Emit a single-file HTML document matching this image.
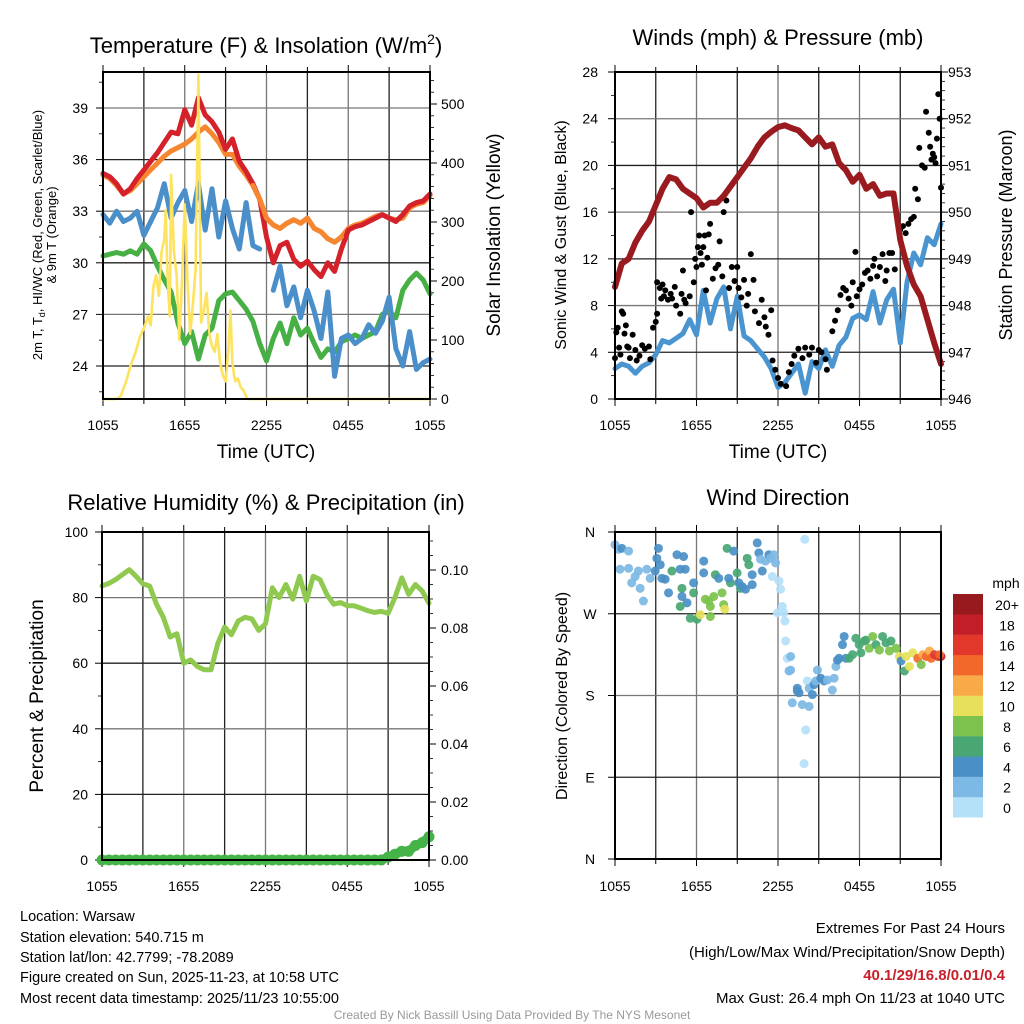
<!DOCTYPE html>
<html><head><meta charset="utf-8"><style>
html,body{margin:0;padding:0;background:#fff;}
svg{display:block;font-family:"Liberation Sans",Arial,sans-serif;}
</style></head><body>
<svg id="s" width="1024" height="1024" viewBox="0 0 1024 1024" xmlns="http://www.w3.org/2000/svg">
<rect width="1024" height="1024" fill="#fff"/>
<text x="266" y="53" font-size="22" text-anchor="middle">Temperature (F) &amp; Insolation (W/m<tspan dy="-9" font-size="14">2</tspan><tspan dy="9">)</tspan></text>
<text x="778" y="45" font-size="22" text-anchor="middle">Winds (mph) &amp; Pressure (mb)</text>
<text x="266" y="510" font-size="22" text-anchor="middle">Relative Humidity (%) &amp; Precipitation (in)</text>
<text x="778" y="505" font-size="22" text-anchor="middle">Wind Direction</text>
<text x="266" y="458" font-size="19" text-anchor="middle">Time (UTC)</text>
<text x="778" y="458" font-size="19" text-anchor="middle">Time (UTC)</text>
<text transform="translate(42,235) rotate(-90)" font-size="13" text-anchor="middle">2m T, T<tspan font-size="9" dy="3">d</tspan><tspan dy="-3">, HI/WC (Red, Green, Scarlet/Blue)</tspan></text>
<text transform="translate(56,235) rotate(-90)" font-size="13" text-anchor="middle">&amp; 9m T (Orange)</text>
<text transform="translate(500,235) rotate(-90)" font-size="19" text-anchor="middle">Solar Insolation (Yellow)</text>
<text transform="translate(566,235) rotate(-90)" font-size="16" text-anchor="middle">Sonic Wind &amp; Gust (Blue, Black)</text>
<text transform="translate(1012,235) rotate(-90)" font-size="18" text-anchor="middle">Station Pressure (Maroon)</text>
<text transform="translate(43,696) rotate(-90)" font-size="19" text-anchor="middle">Percent &amp; Precipitation</text>
<text transform="translate(567,696) rotate(-90)" font-size="16" text-anchor="middle">Direction (Colored By Speed)</text>
<g font-size="14.5">
<text x="20" y="921">Location: Warsaw</text>
<text x="20" y="942">Station elevation: 540.715 m</text>
<text x="20" y="962">Station lat/lon: 42.7799; -78.2089</text>
<text x="20" y="982">Figure created on Sun, 2025-11-23, at 10:58 UTC</text>
<text x="20" y="1003">Most recent data timestamp: 2025/11/23 10:55:00</text>
</g>
<g font-size="15" text-anchor="end">
<text x="1005" y="933">Extremes For Past 24 Hours</text>
<text x="1005" y="957">(High/Low/Max Wind/Precipitation/Snow Depth)</text>
<text x="1005" y="980" fill="#c8202a" font-weight="bold">40.1/29/16.8/0.01/0.4</text>
<text x="1005" y="1003">Max Gust: 26.4 mph On 11/23 at 1040 UTC</text>
</g>
<text x="512" y="1019" font-size="12" fill="#999" text-anchor="middle">Created By Nick Bassill Using Data Provided By The NYS Mesonet</text>
</svg>
<script>
const hours=[0,0.5,1,1.5,2,2.5,3,3.5,4,4.5,5,5.5,6,6.5,7,7.5,8,8.5,9,9.5,10,10.5,11,11.5,12,12.5,13,13.5,14,14.5,15,15.5,16,16.5,17,17.5,18,18.5,19,19.5,20,20.5,21,21.5,22,22.5,23,23.5,24];
const timeLabels=["1055","1655","2255","0455","1055"];
const tempRed=[35.2,35.0,34.6,34.0,34.3,34.9,35.4,35.9,36.4,37.0,37.6,37.5,38.9,38.0,39.6,38.6,38.2,37.6,36.6,37.2,35.9,35.3,34.6,33.7,31.5,30.0,31.0,31.2,30.2,29.8,30.1,29.6,29.2,30.0,29.5,30.8,31.9,32.1,32.2,32.4,32.6,32.8,32.6,32.4,32.8,33.3,33.5,33.6,34.0];
const temp9m=[35.1,34.9,34.5,34.0,34.2,34.6,35.0,35.4,35.8,36.2,36.5,36.7,36.9,37.2,37.6,37.9,37.5,37.0,36.3,36.3,35.6,35.1,34.5,33.7,32.6,32.2,32.0,32.3,32.5,32.3,32.6,32.0,31.8,31.4,31.2,31.5,32.0,32.2,32.3,32.5,32.7,32.8,32.6,32.5,32.6,33.2,33.4,33.5,33.9];
const heatWC=[32.8,32.3,33.0,32.4,32.6,33.0,31.6,32.4,33.2,34.6,32.6,33.5,34.2,32.4,34.6,31.9,34.3,31.5,33.6,32.0,30.8,33.5,31.0,30.8,null,28.4,29.8,27.5,28.6,26.8,28.4,27.2,25.6,28.3,23.4,25.6,25.8,25.3,25.6,26.4,25.9,26.6,28.0,25.0,24.0,26.0,23.8,24.2,24.4];
const dewpt=[30.4,30.5,30.6,30.5,30.7,30.5,31.1,30.7,29.8,29.0,28.3,26.5,25.3,26.0,24.4,25.8,26.2,27.8,28.2,28.3,27.8,27.3,26.6,25.3,24.3,25.6,26.5,25.3,26.8,25.8,26.2,25.3,24.5,25.0,24.8,25.4,25.6,25.8,25.6,25.8,26.0,27.0,27.2,26.8,28.4,29.0,29.4,29.0,28.2];
const solTimes=[0,1,1.3,1.7,2.0,2.4,2.7,3.0,3.3,3.5,3.7,3.9,4.1,4.3,4.5,4.6,4.75,4.9,5.0,5.2,5.4,5.6,5.8,6.0,6.2,6.4,6.6,6.8,7.0,7.2,7.4,7.6,7.8,8.0,8.2,8.4,8.6,8.8,9.0,9.2,9.35,9.5,9.7,9.9,10.1,10.3,10.6,24];
const solar=[0,0,5,30,55,80,105,120,140,125,190,210,175,250,270,320,200,140,380,250,210,100,200,330,200,110,160,220,550,130,150,180,110,90,80,110,60,40,30,80,150,60,30,35,20,15,0,0];
const tempTicks=[24,27,30,33,36,39];
const solarTicks=[0,100,200,300,400,500];
const wind=[2.6,3.0,2.8,2.2,2.8,3.1,3.8,5.0,4.8,5.2,5.6,6.8,5.5,9.3,6.5,8.6,9.6,6.0,8.8,5.4,5.0,4.3,3.6,2.6,1.0,1.4,2.2,3.0,0.5,3.2,2.6,4.2,2.8,4.6,5.3,6.9,7.2,6.8,9.2,6.5,8.5,9.4,4.8,10.0,12.5,11.5,13.8,13.2,15.0];
const pressure=[948.4,948.9,949.0,949.35,949.6,949.8,950.15,950.5,950.75,950.7,950.5,950.4,950.3,950.1,950.2,950.2,950.35,950.55,950.75,950.95,951.15,951.4,951.6,951.72,951.82,951.86,951.8,951.75,951.6,951.45,951.6,951.4,951.45,951.05,950.9,950.65,950.8,950.5,950.6,950.35,950.4,950.4,949.4,948.85,948.45,948.2,947.7,947.2,946.75];
const gustTimes=[0,0.1,0.2,0.3,0.4,0.5,0.6,0.7,0.8,0.9,1,1.1,1.3,1.5,1.6,1.8,2,2.2,2.5,2.6,2.8,3,3.1,3.1,3.3,3.4,3.5,3.6,3.7,3.9,4.1,4.2,4.4,4.5,4.8,4.9,5,5.1,5.2,5.5,5.6,5.8,5.9,6,6.1,6.2,6.3,6.4,6.5,6.6,6.7,6.8,6.9,7.0,7.2,7.4,7.6,7.7,7.9,8,8.2,8.4,8.6,8.8,9.0,9.1,9.3,9.5,9.7,9.8,10.0,10.2,10.3,10.6,10.8,11.0,11.1,11.3,11.5,11.6,11.8,12,12.2,12.6,12.8,13,13.2,13.5,13.8,14.0,14.3,14.5,14.8,15,15.2,15.5,15.6,16,16.2,16.4,16.6,16.8,17.0,17.2,17.4,17.5,17.7,17.8,18,18.2,18.4,18.6,18.8,19.0,19.1,19.3,19.5,19.7,19.9,20.0,20.2,20.4,20.6,21,21.2,21.4,21.6,21.8,22.0,22.1,22.3,22.4,22.6,22.8,22.9,23.1,23.2,23.3,23.4,23.5,23.6,23.7,23.8,23.9,24.0];
const gusts=[3.5,5.7,6.1,4.4,3.8,7.5,7.3,5.6,6.3,4.5,4.4,3.5,5.5,4.2,3.3,3.7,4.6,4.3,4.5,3.4,6.1,6.6,7.3,10,9.5,8.6,9.8,8.8,9.3,8.5,9.0,8.6,9.6,8.0,7.3,9.0,11,8.5,8.2,8.8,16,10,12,11.3,13,14,12.5,11.5,13,14,9.3,12.1,14.1,15,10.3,11.2,11.5,13.5,10.5,16,17,9.5,11.3,10.1,11.3,9.5,8.7,10.2,8.0,9.0,12.4,10.2,7.5,6.5,8.5,7.0,6.2,5.5,7.6,3.3,2.5,1.8,1.3,1.1,2.3,3.0,3.7,4.3,3.5,4.4,3.8,4.4,3.1,4.2,4.0,3.4,2.5,5.8,6.7,7.6,8.9,9.5,9.3,8.6,8.0,10.0,12.6,8.8,9.4,9.8,10.8,11.0,10.3,11.4,12.0,10.5,11.3,12.4,10.1,11.0,12.5,12.5,11.1,14.5,14.8,14.2,15.0,15.4,15.6,18.0,17.1,21.5,20.0,19.8,24.6,22.8,21.6,20.5,21.0,20.7,20.2,22.3,26.1,24.0,18.1];
const windTicks=[0,4,8,12,16,20,24,28];
const presTicks=[946,947,948,949,950,951,952,953];
const rh=[83.6,84.3,85.5,87.0,88.5,86.5,84.2,83.5,78,74,68,69,60,61,59,58,58,66,71,68.7,72.9,74,73.5,70,72,83,80,84,79.5,86.5,79,86.5,85.5,81,78,78.5,77.5,77.5,76.8,76,75.5,75.8,75.2,80,86,81,84,82,78.3];
const precip=[0,0,0,0,0,0,0,0,0,0,0,0,0,0,0,0,0,0,0,0,0,0,0,0,0,0,0,0,0,0,0,0,0,0,0,0,0,0,0,0,0,0,0.001,0.002,0.003,0.003,0.005,0.006,0.008];
const rhTicks=[0,20,40,60,80,100];
const precipTicks=["0.00","0.02","0.04","0.06","0.08","0.10"];
const wdTimes=[0,0.25,0.5,1.0,0.37,1.0,1.23,1.48,1.72,1.85,2.09,2.34,2.59,2.96,3.2,3.08,3.33,3.45,3.69,3.94,4.19,4.56,5.05,4.8,5.17,4.93,4.93,5.3,4.8,5.54,5.79,5.79,6.03,6.28,6.53,6.53,6.65,6.9,7.02,7.02,7.27,7.39,7.64,7.88,8.0,8.08,8.25,8.5,8.74,8.37,8.99,9.11,9.24,9.36,9.61,9.73,9.85,10.1,10.1,10.47,10.59,10.71,10.84,11.08,11.33,11.45,11.7,11.82,11.58,12.07,12.19,12.32,12.44,11.95,12.51,12.56,12.68,12.93,12.93,12.81,13.05,13.42,13.42,13.55,13.79,14.29,14.16,14.29,14.53,14.66,14.78,14.9,15.15,15.39,15.64,16.0,16.13,16.26,16.38,16.5,16.75,16.87,17.0,17.24,17.49,17.73,17.98,18.1,18.35,18.47,18.72,18.97,19.21,19.46,19.7,19.95,20.2,20.32,20.69,20.94,21.06,21.31,21.43,21.67,21.92,22.29,22.54,22.66,22.91,23.15,23.28,23.52,23.77,24.0,23.9,13.97,14.04,13.92];
const wdDirs=[346,341,342,339,319,320,304,311,317,298,284,319,309,317,342,331,324,309,308,293,317,335,333,319,319,298,289,282,278,265,304,293,264,269,328,315,286,284,278,267,289,313,309,293,280,275,342,304,339,309,315,304,298,300,297,331,324,302,313,348,337,330,317,328,335,331,335,326,311,306,297,278,271,271,262,240,221,223,208,207,172,188,185,183,170,168,196,188,181,192,196,208,199,196,197,186,199,212,219,221,236,245,221,221,225,243,236,227,240,241,232,245,236,230,245,238,229,240,232,223,218,207,223,212,227,221,214,225,223,229,221,225,223,223,225,352,142,105];
const wdSpeeds=[3,3,5,3,3,3,3,3,3,3,3,3,3,5,5,5,5,5,5,5,7,5,5,5,5,7,5,5,7,7,5,7,7,11,5,5,9,9,9,9,9,7,5,9,9,11,7,7,5,5,7,5,7,5,5,7,7,5,5,5,5,3,5,3,5,3,3,3,1,1,1,1,1,1,1,1,1,3,3,3,3,5,5,5,3,3,1,3,5,5,3,3,5,5,3,3,3,3,5,5,5,5,5,7,7,7,7,7,7,7,9,9,7,9,7,7,9,7,9,11,5,7,11,11,11,15,9,13,15,13,15,17,17,19,15,1,1,1];
const dirTicks=["N","E","S","W","N"];
const speedLabels=["0","2","4","6","8","10","12","14","16","18","20+"];
const speedColors=["#b4e0f8","#7cb9e4","#4a8fc6","#48a773","#7cc24c","#e6e05a","#f9aa48","#f2682b","#e1382b","#c11e27","#961a1e"];

const NS="http://www.w3.org/2000/svg";
const svg=document.getElementById('s');
function mk(tag,attrs,parent){const e=document.createElementNS(NS,tag);for(const k in attrs)e.setAttribute(k,attrs[k]);(parent||svg).appendChild(e);return e;}

// scales
const P1={x0:103,x1:430,y0:72,y1:399};
const P2={x0:615,x1:941,y0:72,y1:399};
const P3={x0:102,x1:429,y0:532,y1:860};
const P4={x0:615,x1:941,y0:532,y1:859};
function xs(P,h){return P.x0+h*(P.x1-P.x0)/24;}
const yT=v=>366-(v-24)*17.2;
const yI=v=>399-v*0.59;
const yW=v=>399-v*(327/28);
const yP=v=>399-(v-946)*(327/7);
const yR=v=>860-v*3.28;
const yPr=v=>860-v*2900;
const yD=v=>859-v*327/360;

function frame(P,name,hg){
  const g=mk('g',{});
  
  
  for(let i=1;i<8;i++){const x=xs(P,i*3);mk('line',{x1:x,x2:x,y1:P.y0,y2:P.y1,stroke:i%2?'#222':'#777','stroke-width':1.3},g);}
  hg.forEach((y,i)=>{mk('line',{x1:P.x0,x2:P.x1,y1:y,y2:y,stroke:i%2?'#777':'#222','stroke-width':1.3},g);});
  for(let i=0;i<=8;i++){const x=xs(P,i*3);mk('line',{x1:x,x2:x,y1:P.y1,y2:P.y1+(i%2?5:7),stroke:'#000','stroke-width':1},g);
    mk('line',{x1:x,x2:x,y1:P.y0,y2:P.y0-(i%2?5:7),stroke:'#000','stroke-width':1},g);}
  return g;
}
function border(P,name){const r=mk('rect',{x:P.x0,y:P.y0,width:P.x1-P.x0,height:P.y1-P.y0,fill:'none',stroke:'#000','stroke-width':2});
  
  }
function xlabels(P,y){timeLabels.forEach((t,i)=>{const e=mk('text',{x:xs(P,i*6),y:y,'font-size':14,'text-anchor':'middle'});e.textContent=t;
  
  });}
function ylabels(vals,fy,x,anchor,name,minorStep,side){
  vals.forEach(v=>{const y=fy(+v);const e=mk('text',{x:x,y:y+5,'font-size':14,'text-anchor':anchor});e.textContent=v;
    
    
    mk('line',{x1:side[0],x2:side[0]+side[1]*7,y1:y,y2:y,stroke:'#000','stroke-width':1});});
}
function minorTicks(fy,from,to,step,xb,dir){for(let v=from;v<=to+1e-9;v+=step){const y=fy(v);mk('line',{x1:xb,x2:xb+dir*4,y1:y,y2:y,stroke:'#000','stroke-width':0.8});}}
function line(P,times,vals,fy,color,w,name){
  let d='';let pen=false;
  for(let i=0;i<vals.length;i++){if(vals[i]===null){pen=false;continue;}
    const x=xs(P,times[i]),y=fy(vals[i]);d+=(pen?'L':'M')+x.toFixed(1)+' '+y.toFixed(1);pen=true;}
  const p=mk('path',{d:d,fill:'none',stroke:color,'stroke-width':w,'stroke-linejoin':'round','stroke-linecap':'round'});
  
  
  return p;
}

// Panel 1
frame(P1,'temp-grid',tempTicks.map(yT));
ylabels(tempTicks.map(String),yT,88,'end','temp-tick-label',0,[P1.x0,-1]);
minorTicks(yT,22.5,40.5,3,P1.x0,-1);
ylabels(solarTicks.map(String),yI,441,'start','solar-tick-label',0,[P1.x1,1]);
minorTicks(yI,20,540,20,P1.x1,1);
xlabels(P1,430);
line(P1,solTimes,solar,yI,'#fde35f',2.6,'insolation-line');
line(P1,hours,dewpt,yT,'#46b044',5,'dewpoint-line');
line(P1,hours,heatWC,yT,'#4a8fc9',5,'heat-index-windchill-line');
line(P1,hours,temp9m,yT,'#f6862f',5,'temp-9m-line');
line(P1,hours,tempRed,yT,'#d5212a',5,'temp-2m-line');
line(P1,hours,temp9m.map((v,i)=>i>=22&&i<36?v:null),yT,'#f6862f',5,'temp-9m-overlay');
line(P1,solTimes,solar,yI,'#fde35f',2.2,'insolation-overlay');
border(P1,'temp-plot-border');

// Panel 2
frame(P2,'wind-grid',windTicks.slice(1,7).map(yW));
ylabels(windTicks.map(String),yW,598,'end','wind-tick-label',0,[P2.x0,-1]);
minorTicks(yW,2,26,4,P2.x0,-1);
ylabels(presTicks.map(String),yP,948,'start','pressure-tick-label',0,[P2.x1,1]);
minorTicks(yP,946.2,952.8,0.2,P2.x1,1);
xlabels(P2,430);
line(P2,hours,wind,yW,'#4a94d0',5,'sonic-wind-line');
gusts.forEach((v,i)=>{const c=mk('circle',{cx:xs(P2,gustTimes[i]),cy:yW(v),r:3,fill:'#000'});
  
  });
line(P2,hours,pressure,yP,'#9a1b1f',6,'pressure-line');
border(P2,'wind-plot-border');

// Panel 3
frame(P3,'rh-grid',rhTicks.slice(1,5).map(yR));
ylabels(rhTicks.map(String),yR,88,'end','rh-tick-label',0,[P3.x0,-1]);
minorTicks(yR,10,90,20,P3.x0,-1);
ylabels(precipTicks,yPr,441,'start','precip-tick-label',0,[P3.x1,1]);
minorTicks(yPr,0.005,0.11,0.005,P3.x1,1);
xlabels(P3,891);
line(P3,hours,rh,yR,'#8fc94f',5,'rh-line');
line(P3,hours,precip,yPr,'#45b347',9,'precip-line');
precip.forEach((v,i)=>{const c=mk('circle',{cx:xs(P3,hours[i]),cy:yPr(v),r:5.5,fill:'#45b347'});
  
  });
border(P3,'rh-plot-border');

// Panel 4
frame(P4,'wdir-grid',[90,180,270].map(yD));
dirTicks.forEach((t,i)=>{const y=yD(i*90);const e=mk('text',{x:590,y:y+5,'font-size':14,'text-anchor':'middle'});e.textContent=t;
  
  
  mk('line',{x1:P4.x0,x2:P4.x0-7,y1:y,y2:y,stroke:'#000'});});
xlabels(P4,891);
wdDirs.forEach((d,i)=>{const ci=Math.min(10,Math.floor(wdSpeeds[i]/2));
  const c=mk('circle',{cx:xs(P4,wdTimes[i]),cy:yD(d),r:4.5,fill:speedColors[ci],'fill-opacity':0.92});
  
  });
border(P4,'wdir-plot-border');

// Colorbar
const cb=mk('g',{});


const mt=mk('text',{x:1006,y:588,'font-size':14,'text-anchor':'middle'},cb);mt.textContent='mph';
speedLabels.forEach((lab,i)=>{const y=594+(10-i)*20.3;
  const r=mk('rect',{x:953,y:y,width:30,height:20.5,fill:speedColors[i]},cb);
  
  
  const t=mk('text',{x:1007,y:y+16,'font-size':14,'text-anchor':'middle'},cb);t.textContent=lab;
  
  });
</script>
</body></html>
